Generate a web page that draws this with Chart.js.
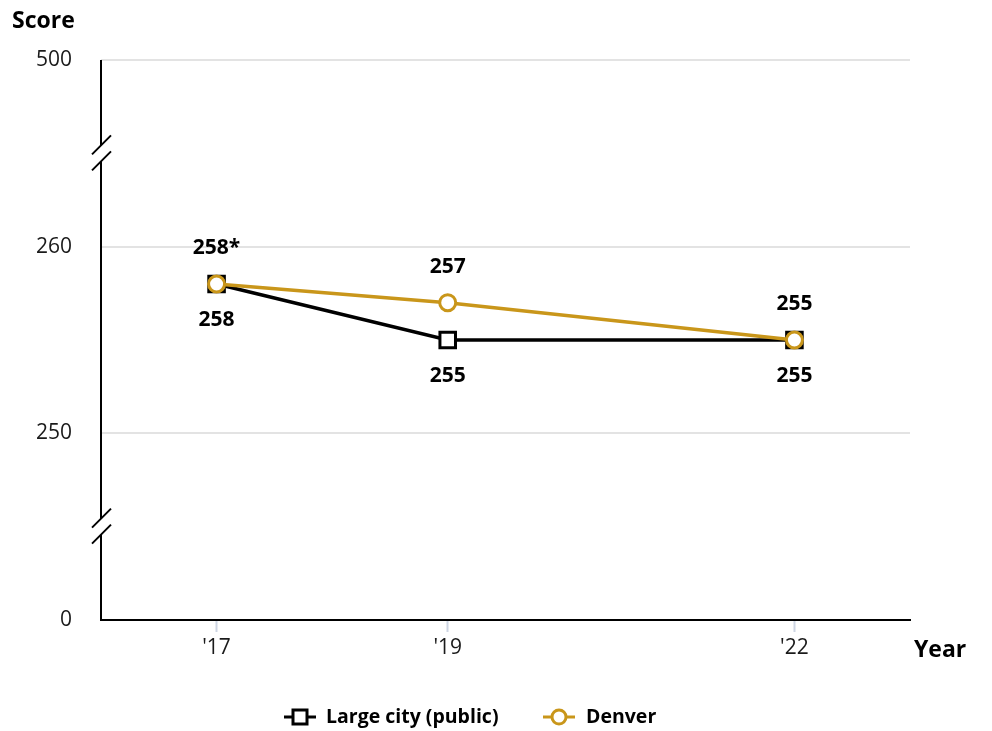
<!DOCTYPE html>
<html>
<head>
<meta charset="utf-8">
<script src="https://cdn.jsdelivr.net/npm/chart.js@4/dist/chart.umd.min.js"></script>
<style>
  body { margin: 0; background: #fff; }
  #wrap { width: 992px; height: 731px; }
</style>
</head>
<body>
<div id="wrap"><canvas id="grafico"></canvas></div>
<script>
const anos = [2017, 2019, 2022]
const anos_labels = ["'17", "'19", "'22"]
const large_city = [258, 255, 255]
const denver = [258, 257, 255]
const large_city_labels = ['258', '255', '255']
const denver_labels = ['258*', '257', '255']
// broken axis: 240 stands for 0, 270 stands for 500
const y_ticks = [240, 250, 260, 270]
const y_tick_labels = ['0', '250', '260', '500']
const y_breaks = [265, 245]

const preto = '#000000'
const dourado = '#C9961A'
const fonte = '"Open Sans", "Noto Sans", sans-serif'

const extras = {
    id: 'extras',
    afterDraw(chart) {
        const ctx = chart.ctx
        const area = chart.chartArea
        const ys = chart.scales.y
        ctx.save()

        // y axis line with breaks
        const gap = 8
        const cuts = y_breaks.map(v => ys.getPixelForValue(v)).sort((a, b) => a - b)
        ctx.strokeStyle = preto
        ctx.lineWidth = 2
        let start = area.top
        ctx.beginPath()
        cuts.forEach(c => {
            ctx.moveTo(area.left, start)
            ctx.lineTo(area.left, c - gap)
            start = c + gap
        })
        ctx.moveTo(area.left, start)
        ctx.lineTo(area.left, area.bottom + 1)
        cuts.forEach(c => {
            ctx.moveTo(area.left - 9, c - gap + 9)
            ctx.lineTo(area.left + 10, c - gap - 10)
            ctx.moveTo(area.left - 9, c + gap + 9)
            ctx.lineTo(area.left + 10, c + gap - 10)
        })
        ctx.stroke()

        // axis titles
        ctx.fillStyle = preto
        ctx.font = 'bold 23px ' + fonte
        ctx.textBaseline = 'middle'
        ctx.textAlign = 'left'
        ctx.fillText('Score', 12, 21)
        ctx.fillText('Year', 914, 650)

        // value labels
        ctx.font = 'bold 21px ' + fonte
        ctx.textAlign = 'center'
        const m0 = chart.getDatasetMeta(0)
        const m1 = chart.getDatasetMeta(1)
        m0.data.forEach((p, i) => ctx.fillText(large_city_labels[i], p.x, p.y + 36))
        m1.data.forEach((p, i) => ctx.fillText(denver_labels[i], p.x, p.y - 36))

        // legend
        const ly = 717
        ctx.font = 'bold 19.5px ' + fonte
        ctx.textAlign = 'left'
        ctx.lineWidth = 3
        ctx.strokeStyle = preto
        ctx.beginPath()
        ctx.moveTo(284, ly)
        ctx.lineTo(316, ly)
        ctx.stroke()
        ctx.fillStyle = '#fff'
        ctx.fillRect(293, ly - 7, 14, 14)
        ctx.strokeRect(293, ly - 7, 14, 14)
        ctx.fillStyle = preto
        ctx.fillText(chart.data.datasets[0].label, 326, ly)

        ctx.strokeStyle = dourado
        ctx.beginPath()
        ctx.moveTo(543, ly)
        ctx.lineTo(575, ly)
        ctx.stroke()
        ctx.beginPath()
        ctx.arc(559, ly, 7, 0, Math.PI * 2)
        ctx.fillStyle = '#fff'
        ctx.fill()
        ctx.stroke()
        ctx.fillStyle = preto
        ctx.fillText(chart.data.datasets[1].label, 586, ly)

        ctx.restore()
    }
}

const data = {
    datasets: [
        {
            label: 'Large city (public)',
            data: anos.map((a, i) => ({ x: a, y: large_city[i] })),
            borderColor: preto,
            backgroundColor: '#fff',
            borderWidth: 3.5,
            pointStyle: 'rect',
            pointRadius: 11,
            pointBorderWidth: 3,
            pointBorderColor: preto,
            pointBackgroundColor: '#fff',
            tension: 0,
            order: 2
        },
        {
            label: 'Denver',
            data: anos.map((a, i) => ({ x: a, y: denver[i] })),
            borderColor: dourado,
            backgroundColor: '#fff',
            borderWidth: 3.5,
            pointStyle: 'circle',
            pointRadius: 8,
            pointBorderWidth: 3,
            pointBorderColor: dourado,
            pointBackgroundColor: '#fff',
            tension: 0,
            order: 1
        }
    ]
}

const config = {
    type: 'line',
    data: data,
    options: {
        responsive: true,
        maintainAspectRatio: false,
        animation: false,
        layout: { padding: { top: 60, right: 82, left: 0, bottom: 0 } },
        plugins: { legend: { display: false }, tooltip: { enabled: false } },
        scales: {
            x: {
                type: 'linear',
                min: 2016,
                max: 2023,
                afterFit: s => { s.height = 111 },
                afterBuildTicks: s => { s.ticks = anos.map(v => ({ value: v })) },
                ticks: {
                    padding: 3,
                    color: '#1a1a1a',
                    font: { family: fonte, size: 21 },
                    callback: v => anos_labels[anos.indexOf(v)]
                },
                grid: {
                    drawOnChartArea: false,
                    drawTicks: true,
                    tickLength: 12,
                    tickColor: '#cdd5e3',
                    tickWidth: 2
                },
                border: { color: preto, width: 2 }
            },
            y: {
                min: 240,
                max: 270,
                afterFit: s => { s.width = 101 },
                afterBuildTicks: s => { s.ticks = y_ticks.map(v => ({ value: v })) },
                ticks: {
                    padding: 29,
                    color: '#1a1a1a',
                    font: { family: fonte, size: 21 },
                    callback: v => y_tick_labels[y_ticks.indexOf(v)]
                },
                grid: {
                    drawTicks: false,
                    color: c => c.tick && c.tick.value === 240 ? 'rgba(0,0,0,0)' : '#e3e3e3',
                    lineWidth: 2
                },
                border: { display: false }
            }
        }
    },
    plugins: [extras]
}

const grafico = new Chart(document.querySelector('#grafico'), config)
</script>
</body>
</html>
